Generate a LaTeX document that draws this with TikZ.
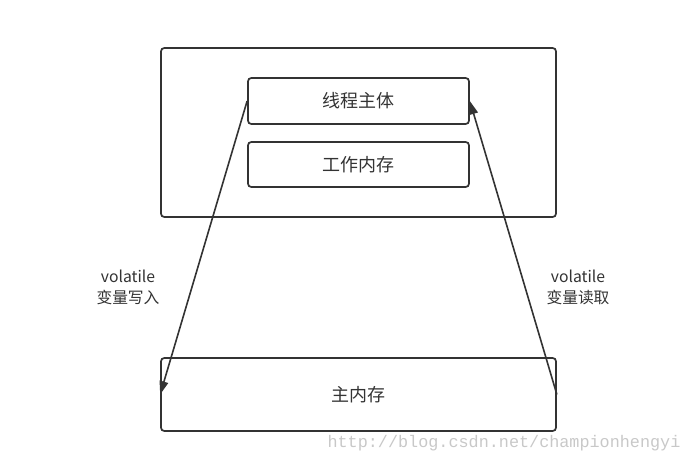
\documentclass[tikz,border=0pt]{standalone}
\usepackage{fontspec}
\setmainfont{Noto Sans CJK SC}
\newfontfamily\wmfont{Liberation Mono}
\usetikzlibrary{arrows.meta}
\definecolor{ink}{HTML}{333333}
\definecolor{wm}{HTML}{C8C8C8}
\tikzset{
  box/.style={draw=ink, line width=1.3pt, rounded corners=2.5pt, inner sep=0pt, font=\fontsize{13.5pt}{15pt}\selectfont, text=ink},
  lbl/.style={align=center, font=\fontsize{11.8pt}{15.5pt}\selectfont, text=ink, inner sep=0pt},
  conn/.style={draw=ink, line width=1.2pt, -{Triangle[length=10pt,width=6.5pt]}}
}
\begin{document}
\begin{tikzpicture}[x=0.75pt,y=-0.75pt]
\useasboundingbox (0,0) rectangle (690,464);
\node[box, minimum width=296.25pt, minimum height=126.75pt] (outer) at (358.5,132.5) {};
\node[box, minimum width=165.75pt, minimum height=34.5pt] (thread) at (358.5,101) {线程主体};
\node[box, minimum width=165.75pt, minimum height=33.75pt] (work) at (358.5,164.5) {工作内存};
\node[box, minimum width=296.25pt, minimum height=54.75pt] (main) at (358.5,394.5) {主内存};
\draw[conn] (thread.west) -- (main.west);
\draw[conn] (main.east) -- (thread.east);
\node[lbl] (wl) at (128,287.5) {volatile\\变量写入};
\node[lbl] (rl) at (578,287.5) {volatile\\变量读取};
\node[font=\wmfont\fontsize{12.6pt}{14pt}\selectfont, text=wm, inner sep=0pt] (wmk) at (504,443) {http://blog.csdn.net/championhengyi};
\end{tikzpicture}
\end{document}
